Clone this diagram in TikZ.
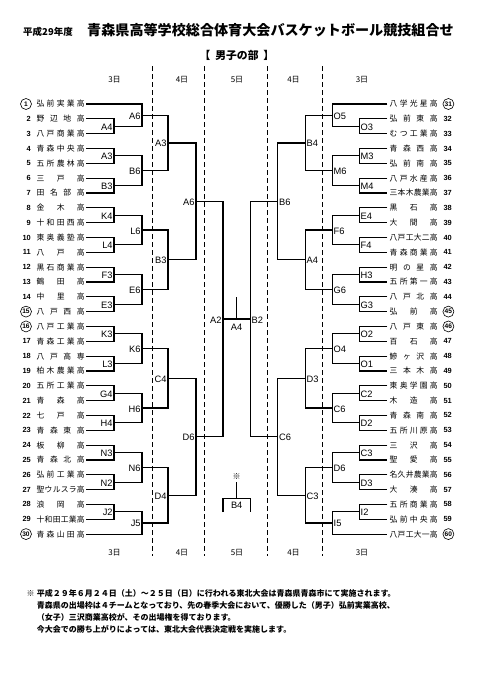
\documentclass[tikz,border=0pt]{standalone}
\usepackage{fontspec}
\setmainfont{Liberation Sans}
\newfontfamily\jp{Noto Sans CJK JP}
\usetikzlibrary{calc}
\def\dnstop{}
\def\dnsplit#1#2\dnstop{#1\if\relax\detokenize{#2}\relax\else\hfill\dnsplit#2\dnstop\fi}
\newcommand\namebox[1]{\makebox[48pt][s]{\jp\expandafter\dnsplit#1\dnstop}}
\newcommand\jL[5]{%
  \draw[bl] (#4) -| (#3 |- #5) -- (#5);
  \path ($(#3 |- #4)!0.5!(#3 |- #5)$) coordinate (#1) node[lblL] (#1-t) {#2};
}
\newcommand\jR[5]{%
  \draw[bl] (#4) -| (#3 |- #5) -- (#5);
  \path ($(#3 |- #4)!0.5!(#3 |- #5)$) coordinate (#1) node[lblR] (#1-t) {#2};
}
\begin{document}
\begin{tikzpicture}[x=1pt,y=-1pt,
  bl/.style={line width=1.15pt},
  dl/.style={line width=1.2pt, dash pattern=on 5pt off 3pt},
  lblL/.style={anchor=east, inner sep=1.2pt, yshift=-0.8pt, font=\fontsize{9.3}{10}\selectfont},
  lblR/.style={anchor=west, inner sep=1.2pt, yshift=-0.8pt, font=\fontsize{9.3}{10}\selectfont},
  numL0/.style={anchor=east, inner sep=0pt, font=\fontsize{7.4}{8}\selectfont\bfseries},
  numL1/.style={anchor=east, circle, draw, line width=0.6pt, inner sep=0pt, minimum size=11pt, font=\fontsize{6.6}{7}\selectfont\bfseries},
  numR0/.style={anchor=west, inner sep=0pt, font=\fontsize{7.4}{8}\selectfont\bfseries},
  numR1/.style={anchor=west, circle, draw, line width=0.6pt, inner sep=0pt, minimum size=11pt, font=\fontsize{6.6}{7}\selectfont\bfseries},
  tname/.style={anchor=west, inner sep=0pt, font=\fontsize{7.8}{8}\selectfont},
  day/.style={font=\jp\fontsize{8}{9}\selectfont},
  note/.style={anchor=west, inner sep=0pt, font=\jp\bfseries\fontsize{8}{9}\selectfont},
]
\fill[white] (0,0) rectangle (481,680);
\useasboundingbox (0,0) rectangle (481,680);

% titles
\node[font=\jp\bfseries\fontsize{9.5}{10}\selectfont] (year) at (48,32) {平成29年度};
\node[font=\jp\bfseries\fontsize{14.1}{15}\selectfont] (title) at (270.5,30.5) {青森県高等学校総合体育大会バスケットボール競技組合せ};
\node[font=\jp\bfseries\fontsize{10.8}{11}\selectfont] (sub) at (237,55) {【\hspace{0.45em}男子の部\hspace{0.45em}】};

% day headers / footers
\foreach \x/\d [count=\k] in {114.5/3日,182/4日,237/5日,293.5/4日,362/3日}{
  \node[day] (dh\k) at (\x,80) {\d};
  \node[day] (df\k) at (\x,552.7) {\d};
}
% dashed separators
\foreach \x in {152.5,204.5,267.3,322.3}{
  \draw[dl] (\x,66) -- (\x,556);
}

% x positions of bracket columns
\coordinate (XL1) at (114,0);   \coordinate (XL2) at (142,0);
\coordinate (XL3) at (168,0);   \coordinate (XL4) at (196,0);
\coordinate (XL5) at (223,0);
\coordinate (XR1) at (359.3,0); \coordinate (XR2) at (332.3,0);
\coordinate (XR3) at (305.2,0); \coordinate (XR4) at (277.7,0);
\coordinate (XR5) at (250.3,0);

% left teams
\foreach \i/\nm/\c in {1/弘前実業高/1,2/野辺地高/0,3/八戸商業高/0,4/青森中央高/0,5/五所農林高/0,
 6/三戸高/0,7/田名部高/0,8/金木高/0,9/十和田西高/0,10/東奥義塾高/0,11/八戸高/0,12/黒石商業高/0,
 13/鶴田高/0,14/中里高/0,15/八戸西高/1,16/八戸工業高/1,17/青森工業高/0,18/八戸高専/0,19/柏木農業高/0,
 20/五所工業高/0,21/青森高/0,22/七戸高/0,23/青森東高/0,24/板柳高/0,25/青森北高/0,26/弘前工業高/0,
 27/聖ウルスラ高/0,28/浪岡高/0,29/十和田工業高/0,30/青森山田高/1}{
  \pgfmathsetmacro\yy{104+(\i-1)*14.83}
  \coordinate (T\i) at (86,\yy);
  \node[tname] (N\i) at (36.5,\yy) {\namebox{\nm}};
  \ifnum\c=1 \node[numL1] (n\i) at (31.8,\yy) {\i};
  \else \node[numL0] (n\i) at (31,\yy) {\i}; \fi
}
% right teams
\foreach \i/\nm/\c in {31/八学光星高/1,32/弘前東高/0,33/むつ工業高/0,34/青森西高/0,35/弘前南高/0,
 36/八戸水産高/0,37/三本木農業高/0,38/黒石高/0,39/大間高/0,40/八戸工大二高/0,41/青森商業高/0,
 42/明の星高/0,43/五所第一高/0,44/八戸北高/0,45/弘前高/1,46/八戸東高/1,47/百石高/0,48/鰺ヶ沢高/0,
 49/三本木高/0,50/東奥学園高/0,51/木造高/0,52/青森南高/0,53/五所川原高/0,54/三沢高/0,55/聖愛高/0,
 56/名久井農業高/0,57/大湊高/0,58/五所商業高/0,59/弘前中央高/0,60/八戸工大一高/1}{
  \pgfmathsetmacro\yy{104+(\i-31)*14.83}
  \coordinate (T\i) at (387.3,\yy);
  \node[tname] (N\i) at (389.5,\yy) {\namebox{\nm}};
  \ifnum\c=1 \node[numR1] (n\i) at (442.6,\yy) {\i};
  \else \node[numR0] (n\i) at (443.3,\yy) {\i}; \fi
}

% ---- left bracket ----
\jL{mA4}{A4}{XL1}{T2}{T3}
\jL{mA3a}{A3}{XL1}{T4}{T5}
\jL{mB3a}{B3}{XL1}{T6}{T7}
\jL{mK4}{K4}{XL1}{T8}{T9}
\jL{mL4}{L4}{XL1}{T10}{T11}
\jL{mF3}{F3}{XL1}{T12}{T13}
\jL{mE3}{E3}{XL1}{T14}{T15}
\jL{mK3}{K3}{XL1}{T16}{T17}
\jL{mL3}{L3}{XL1}{T18}{T19}
\jL{mG4}{G4}{XL1}{T20}{T21}
\jL{mH4}{H4}{XL1}{T22}{T23}
\jL{mN3}{N3}{XL1}{T24}{T25}
\jL{mN2}{N2}{XL1}{T26}{T27}
\jL{mJ2}{J2}{XL1}{T28}{T29}
\jL{mA6a}{A6}{XL2}{T1}{mA4}
\jL{mB6a}{B6}{XL2}{mA3a}{mB3a}
\jL{mL6}{L6}{XL2}{mK4}{mL4}
\jL{mE6}{E6}{XL2}{mF3}{mE3}
\jL{mK6}{K6}{XL2}{mK3}{mL3}
\jL{mH6}{H6}{XL2}{mG4}{mH4}
\jL{mN6}{N6}{XL2}{mN3}{mN2}
\jL{mJ5}{J5}{XL2}{mJ2}{T30}
\jL{mA3b}{A3}{XL3}{mA6a}{mB6a}
\jL{mB3b}{B3}{XL3}{mL6}{mE6}
\jL{mC4}{C4}{XL3}{mK6}{mH6}
\jL{mD4}{D4}{XL3}{mN6}{mJ5}
\jL{mA6b}{A6}{XL4}{mA3b}{mB3b}
\jL{mD6}{D6}{XL4}{mC4}{mD4}
\jL{mA2}{A2}{XL5}{mA6b}{mD6}

% ---- right bracket ----
\jR{mO3}{O3}{XR1}{T32}{T33}
\jR{mM3}{M3}{XR1}{T34}{T35}
\jR{mM4}{M4}{XR1}{T36}{T37}
\jR{mE4}{E4}{XR1}{T38}{T39}
\jR{mF4}{F4}{XR1}{T40}{T41}
\jR{mH3}{H3}{XR1}{T42}{T43}
\jR{mG3}{G3}{XR1}{T44}{T45}
\jR{mO2}{O2}{XR1}{T46}{T47}
\jR{mO1}{O1}{XR1}{T48}{T49}
\jR{mC2}{C2}{XR1}{T50}{T51}
\jR{mD2}{D2}{XR1}{T52}{T53}
\jR{mC3a}{C3}{XR1}{T54}{T55}
\jR{mD3a}{D3}{XR1}{T56}{T57}
\jR{mI2}{I2}{XR1}{T58}{T59}
\jR{mO5}{O5}{XR2}{T31}{mO3}
\jR{mM6}{M6}{XR2}{mM3}{mM4}
\jR{mF6}{F6}{XR2}{mE4}{mF4}
\jR{mG6}{G6}{XR2}{mH3}{mG3}
\jR{mO4}{O4}{XR2}{mO2}{mO1}
\jR{mC6a}{C6}{XR2}{mC2}{mD2}
\jR{mD6r}{D6}{XR2}{mC3a}{mD3a}
\jR{mI5}{I5}{XR2}{mI2}{T60}
\jR{mB4}{B4}{XR3}{mO5}{mM6}
\jR{mA4r}{A4}{XR3}{mF6}{mG6}
\jR{mD3b}{D3}{XR3}{mO4}{mC6a}
\jR{mC3b}{C3}{XR3}{mD6r}{mI5}
\jR{mB6r}{B6}{XR4}{mB4}{mA4r}
\jR{mC6b}{C6}{XR4}{mD3b}{mC3b}
\jR{mB2}{B2}{XR5}{mB6r}{mC6b}

% ---- final ----
\draw[bl] (mA2) -- (mB2);
\coordinate (fin) at ($(mA2)!0.5!(mB2)$);
\coordinate (finTop) at ($(fin)+(0,-22)$);
\draw[bl] (fin) -- (finTop);
\node[font=\fontsize{9.3}{10}\selectfont] (finLbl) at ($(fin)+(0,8.5)$) {A4};

% ---- B4 play-off ----
\coordinate (pTop) at (236.7,481.5);
\coordinate (pMid) at (236.7,498.3);
\coordinate (pL) at (223,512);
\coordinate (pR) at (250.3,512);
\draw[bl] (pL) |- (pMid) -| (pR);
\draw[bl] (pMid) -- (pTop);
\node[font=\jp\fontsize{8}{9}\selectfont] (pMark) at (236.7,477) {※};
\node[font=\fontsize{9.3}{10}\selectfont] (pLbl) at (236.7,505.5) {B4};

% ---- notes ----
\node[note] (kome) at (26.5,593.3) {※};
\node[note] (l1) at (36.7,593.3) {平成２９年６月２４日（土）～２５日（日）に行われる東北大会は青森県青森市にて実施されます。};
\node[note] (l2) at (36.7,605.2) {青森県の出場枠は４チームとなっており、先の春季大会において、優勝した（男子）弘前実業高校、};
\node[note] (l3) at (36.7,617) {（女子）三沢商業高校が、その出場権を得ております。};
\node[note] (l4) at (36.7,629.3) {今大会での勝ち上がりによっては、東北大会代表決定戦を実施します。};
\end{tikzpicture}
\end{document}
